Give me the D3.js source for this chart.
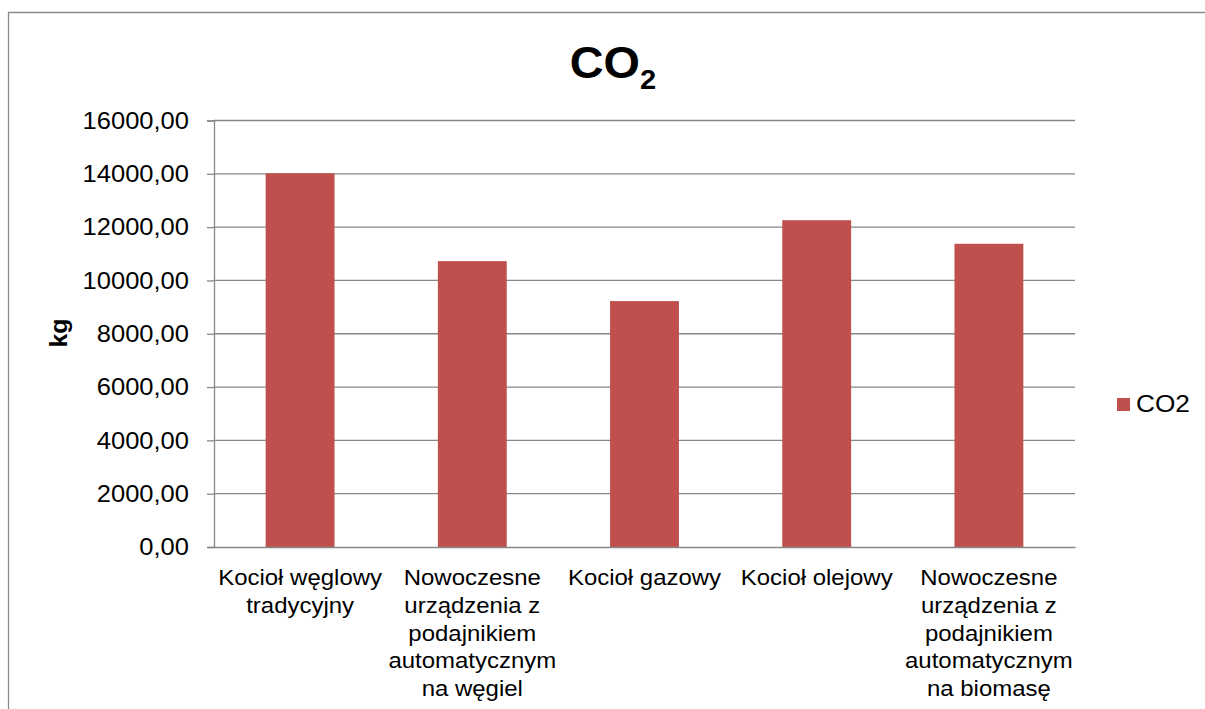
<!DOCTYPE html>
<html>
<head>
<meta charset="utf-8">
<script src="https://cdn.jsdelivr.net/npm/d3@7/dist/d3.min.js"></script>
<style>
  html, body { margin: 0; padding: 0; background: #fff; }
  svg { display: block; font-family: Arial, "Liberation Sans", sans-serif; }
</style>
</head>
<body>
<svg id="chart" width="1205" height="709"></svg>
<script>
// Emission data (kg CO2) per heating source
const categories = [
  ["Kocioł węglowy", "tradycyjny"],
  ["Nowoczesne", "urządzenia z", "podajnikiem", "automatycznym", "na węgiel"],
  ["Kocioł gazowy"],
  ["Kocioł olejowy"],
  ["Nowoczesne", "urządzenia z", "podajnikiem", "automatycznym", "na biomasę"]
];
const co2Values = [14020, 10725, 9225, 12260, 11375];
const yTicks = [0, 2000, 4000, 6000, 8000, 10000, 12000, 14000, 16000];
const seriesName = "CO2";
const yAxisTitle = "kg";

const svg = d3.select("#chart");
const barColor = "#C0504D";
const gridColor = "#878787";

const plot = { left: 214, right: 1075, top: 120.5, bottom: 547 };

const x = d3.scaleBand()
  .domain(d3.range(categories.length))
  .range([plot.left, plot.right])
  .paddingInner(0.6)
  .paddingOuter(0.3);

const y = d3.scaleLinear()
  .domain([0, 16000])
  .range([plot.bottom, plot.top]);

// helper: place text with a horizontal stretch factor
function stretchedText(g, tx, ty, str, opts) {
  const sx = opts.stretch || 1.1;
  const t = g.append("g")
    .attr("transform", `translate(${tx},${ty}) scale(${sx},1)`)
    .append("text")
    .attr("x", 0).attr("y", 0)
    .attr("font-size", opts.size || 20)
    .attr("font-weight", opts.weight || "normal")
    .attr("text-anchor", opts.anchor || "start")
    .attr("fill", "#000");
  if (typeof str === "string") t.text(str);
  return t;
}

// chart frame (top and left edges)
svg.append("path")
  .attr("d", "M8.5,709 L8.5,12.5 L1205,12.5")
  .attr("fill", "none")
  .attr("stroke", "#8a8a8a")
  .attr("stroke-width", 1.3);

// horizontal gridlines
svg.append("g")
  .selectAll("line")
  .data(yTicks.filter(d => d > 0))
  .join("line")
  .attr("x1", plot.left).attr("x2", plot.right)
  .attr("y1", d => y(d)).attr("y2", d => y(d))
  .attr("stroke", gridColor)
  .attr("stroke-width", 1.3);

// bars
svg.append("g")
  .selectAll("rect")
  .data(co2Values)
  .join("rect")
  .attr("x", (d, i) => x(i))
  .attr("width", x.bandwidth())
  .attr("y", d => y(d))
  .attr("height", d => y(0) - y(d))
  .attr("fill", barColor);

// y axis
const yAxis = d3.axisLeft(y)
  .tickValues(yTicks)
  .tickSize(7)
  .tickFormat(() => "");
const yG = svg.append("g")
  .attr("transform", `translate(${plot.left},0)`)
  .call(yAxis);
yG.select(".domain").attr("stroke", gridColor).attr("stroke-width", 1.3);
yG.selectAll(".tick line").attr("stroke", gridColor).attr("stroke-width", 1.3);

// y tick labels
const fmt = v => d3.format(".2f")(v).replace(".", ",");
yTicks.forEach(v => {
  stretchedText(svg, 189, y(v) + 8.3, fmt(v), { anchor: "end", size: 23, stretch: 1.11 });
});

// x axis baseline
const xAxis = d3.axisBottom(x).tickSize(0).tickFormat(() => "");
const xG = svg.append("g")
  .attr("transform", `translate(0,${plot.bottom})`)
  .call(xAxis);
xG.select(".domain").attr("stroke", gridColor).attr("stroke-width", 1.3);

// category labels (multi-line)
categories.forEach((lines, i) => {
  const cx = x(i) + x.bandwidth() / 2;
  lines.forEach((ln, k) => {
    stretchedText(svg, cx, 585 + k * 27.8, ln, { anchor: "middle", size: 22, stretch: 1.09 });
  });
});

// y axis title
svg.append("g")
  .attr("transform", "translate(67,333) rotate(-90) scale(1.08,1)")
  .append("text")
  .attr("text-anchor", "middle")
  .attr("font-size", 23)
  .attr("font-weight", "bold")
  .text(yAxisTitle);

// chart title with subscript
const title = stretchedText(svg, 613, 78, null, { size: 45, weight: "bold", anchor: "middle", stretch: 1.04 });
title.append("tspan").text("CO");
title.append("tspan").attr("font-size", 28).attr("dy", 11).text("2");

// legend
const lg = svg.append("g");
lg.append("rect")
  .attr("x", 1117).attr("y", 398)
  .attr("width", 13).attr("height", 13)
  .attr("fill", barColor);
stretchedText(lg, 1136, 412, seriesName, { size: 23, stretch: 1.14 });
</script>
</body>
</html>
